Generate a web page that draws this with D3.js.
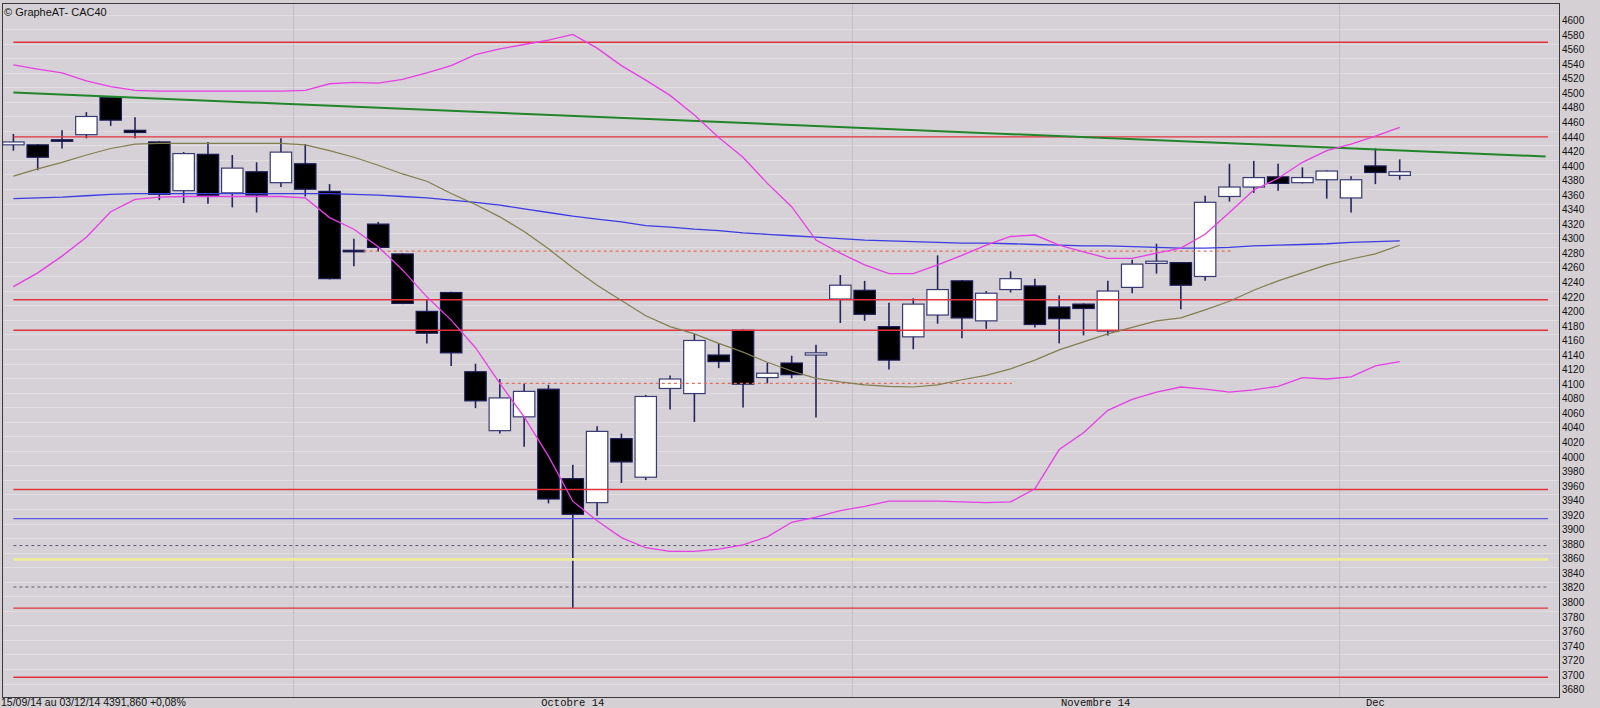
<!DOCTYPE html>
<html>
<head>
<meta charset="utf-8">
<script src="https://d3js.org/d3.v7.min.js"></script>
<style>
  html, body { margin: 0; padding: 0; background: #d4d0d4; overflow: hidden; }
  svg { display: block; font-family: "Liberation Sans", Arial, sans-serif; }
</style>
</head>
<body>
<svg id="chart"></svg>
<script>
// séances du 15/09/14 au 03/12/14
const dates = [
  "15/09/14","16/09/14","17/09/14","18/09/14","19/09/14","22/09/14","23/09/14","24/09/14","25/09/14","26/09/14",
  "29/09/14","30/09/14","01/10/14","02/10/14","03/10/14","06/10/14","07/10/14","08/10/14","09/10/14","10/10/14",
  "13/10/14","14/10/14","15/10/14","16/10/14","17/10/14","20/10/14","21/10/14","22/10/14","23/10/14","24/10/14",
  "27/10/14","28/10/14","29/10/14","30/10/14","31/10/14","03/11/14","04/11/14","05/11/14","06/11/14","07/11/14",
  "10/11/14","11/11/14","12/11/14","13/11/14","14/11/14","17/11/14","18/11/14","19/11/14","20/11/14","21/11/14",
  "24/11/14","25/11/14","26/11/14","27/11/14","28/11/14","01/12/14","02/12/14","03/12/14"
];
const monthNames = { "10": "Octobre 14", "11": "Novembre 14", "12": "Dec" };

const open  = [4429,4429,4436,4443,4494,4449,4433,4366,4416,4363,4392,4377,4403,4365,4284,4320,4279,4200,4226,4117,
               4036,4055,4093,3970,3937,4025,3972,4094,4087,4140,4174,4109,4129,4140,4217,4229,4179,4165,4195,4242,
               4187,4230,4235,4206,4210,4173,4233,4266,4267,4248,4358,4371,4385,4377,4381,4356,4400,4387];
const high  = [4444,4430,4449,4474,4496,4467,4434,4419,4433,4415,4405,4438,4430,4375,4300,4323,4280,4216,4227,4128,
               4107,4101,4099,3989,4042,4032,4085,4112,4169,4156,4175,4129,4139,4154,4250,4242,4212,4218,4277,4243,
               4228,4255,4245,4222,4211,4242,4271,4293,4268,4359,4403,4407,4403,4398,4394,4386,4424,4409];
const low   = [4421,4394,4424,4438,4455,4438,4353,4349,4348,4343,4336,4371,4358,4244,4262,4282,4210,4156,4125,4067,
               4032,4014,3936,3792,3919,3964,3968,4065,4048,4122,4068,4101,4108,4054,4184,4187,4120,4148,4183,4163,
               4176,4226,4178,4156,4167,4167,4225,4252,4203,4242,4351,4363,4366,4376,4355,4336,4375,4381];
const close = [4433,4412,4434,4468,4463,4446,4361,4417,4359,4397,4360,4419,4368,4245,4283,4288,4211,4170,4143,4077,
               4081,4090,3942,3921,4035,3993,4083,4107,4160,4131,4100,4115,4113,4143,4236,4196,4133,4210,4230,4191,
               4225,4245,4182,4190,4204,4228,4265,4269,4236,4350,4371,4384,4376,4384,4393,4381,4391,4392];

// bandes de Bollinger
const bbUpper  = [4539,4533,4528,4517,4509,4504,4503,4503,4503,4503,4503,4503,4504,4513,4515,4514,4519,4528,4538,4553,
                  4561,4567,4573,4581,4562,4538,4518,4497,4470,4439,4412,4376,4344,4298,4280,4264,4252,4252,4264,4277,
                  4291,4303,4305,4291,4282,4273,4273,4280,4287,4306,4336,4367,4383,4405,4421,4430,4441,4453];
const bbMiddle = [4386,4396,4405,4415,4424,4430,4431,4431,4431,4431,4431,4431,4429,4421,4412,4401,4389,4379,4362,4347,
                  4330,4310,4286,4260,4236,4215,4194,4179,4169,4156,4144,4130,4118,4108,4103,4099,4097,4096,4099,4106,
                  4112,4121,4133,4147,4158,4169,4178,4187,4191,4202,4214,4229,4242,4253,4264,4272,4279,4291];
const bbLower  = [4234,4253,4276,4302,4337,4354,4357,4358,4358,4358,4358,4358,4356,4329,4313,4289,4257,4220,4188,4150,
                  4101,4055,4001,3939,3912,3889,3875,3870,3870,3873,3879,3890,3910,3917,3926,3932,3939,3939,3939,3938,
                  3937,3938,3956,4010,4033,4064,4079,4089,4096,4093,4089,4092,4097,4109,4107,4110,4125,4131];
// moyenne mobile longue
const maLong   = [4355,4356,4357,4359,4361,4362,4362,4362,4362,4362,4362,4362,4362,4362,4361,4360,4358,4356,4353,4350,
                  4346,4341,4336,4331,4327,4323,4318,4316,4313,4311,4308,4306,4304,4302,4300,4298,4297,4296,4295,4294,
                  4294,4293,4292,4291,4290,4290,4289,4288,4287,4287,4288,4290,4291,4292,4293,4295,4296,4297];

// niveaux tracés
const redLevels = [4570, 4440, 4216, 4174, 3955, 3792, 3697];
const blueLevels = [3915];
const yellowLevels = [3859];
const grayDashLevels = [3878, 3821];
const levelEnd = 63.1;               // les niveaux s'arrêtent avant l'échelle
const pivotValues = [4283, 4101];     // pointillés saumon
const pivotFrom = [14.4, 20];
const pivotTo = [50.1, 41.05];
const trendIdx = [0, 63];             // oblique verte
const trendVal = [4501, 4413];
const yTicks = d3.range(3680, 4601, 20);

const width = 1600, height = 708;
const frame = { left: 2, top: 3, right: 1559, bottom: 697 };

const svg = d3.select("#chart").attr("width", width).attr("height", height);

const x = d3.scaleLinear().domain([0, dates.length - 1]).range([13.4, 1399.7]);
const y = d3.scaleLinear().domain([3700, 4600]).range([675, 20.5]);
const step = x(1) - x(0);
const bodyW = step * 0.88;

svg.append("rect").attr("width", width).attr("height", height).attr("fill", "#d4d0d4");
svg.append("rect")
  .attr("x", frame.left).attr("y", frame.top)
  .attr("width", frame.right - frame.left).attr("height", frame.bottom - frame.top)
  .attr("fill", "#d5d1d6");

svg.append("defs").append("clipPath").attr("id", "plot")
  .append("rect")
  .attr("x", frame.left).attr("y", frame.top)
  .attr("width", frame.right - frame.left).attr("height", frame.bottom - frame.top);

const g = svg.append("g").attr("clip-path", "url(#plot)");

// grille horizontale
g.append("g").selectAll("line").data(yTicks).enter().append("line")
  .attr("x1", frame.left).attr("x2", frame.right)
  .attr("y1", d => Math.round(y(d) - 6) + 0.5).attr("y2", d => Math.round(y(d) - 6) + 0.5)
  .attr("stroke", "#e1dee2").attr("stroke-width", 1);

// début de mois
const monthStarts = [];
dates.forEach((d, i) => {
  if (i > 0 && d.slice(3, 5) !== dates[i - 1].slice(3, 5)) monthStarts.push(i);
});
g.append("g").selectAll("line").data(monthStarts).enter().append("line")
  .attr("x1", d => Math.round(x(d - 0.5)) + 0.5).attr("x2", d => Math.round(x(d - 0.5)) + 0.5)
  .attr("y1", frame.top).attr("y2", frame.bottom)
  .attr("stroke", "#c3bfc4").attr("stroke-width", 1);

// bougies
const candles = dates.map((d, i) => ({ i, o: open[i], h: high[i], l: low[i], c: close[i] }));
const cg = g.append("g").attr("class", "candles");
cg.selectAll("line").data(candles).enter().append("line")
  .attr("x1", d => x(d.i)).attr("x2", d => x(d.i))
  .attr("y1", d => y(d.h)).attr("y2", d => y(d.l))
  .attr("stroke", "#24245e").attr("stroke-width", 1.6);
cg.selectAll("rect").data(candles).enter().append("rect")
  .attr("x", d => x(d.i) - bodyW / 2)
  .attr("width", bodyW)
  .attr("y", d => y(Math.max(d.o, d.c)))
  .attr("height", d => Math.max(1.5, Math.abs(y(d.o) - y(d.c))))
  .attr("fill", d => d.c >= d.o ? "#ffffff" : "#000000")
  .attr("stroke", d => d.c >= d.o ? "#3a3a72" : "#1c1c58")
  .attr("stroke-width", 1.2);

// niveaux horizontaux
function levels(data, color, widthPx, dash) {
  g.append("g").selectAll("line").data(data).enter().append("line")
    .attr("x1", x(0)).attr("x2", x(levelEnd))
    .attr("y1", d => y(d)).attr("y2", d => y(d))
    .attr("stroke", color).attr("stroke-width", widthPx)
    .attr("stroke-dasharray", dash || null);
}
levels(yellowLevels, "#ecec9c", 2.6);
levels(grayDashLevels, "#5c5c70", 1, "3,3");
levels(blueLevels, "#5a5ae6", 1.4);
levels(redLevels, "#e2323c", 1.4);

g.append("g").selectAll("line").data(pivotValues).enter().append("line")
  .attr("x1", (d, k) => x(pivotFrom[k])).attr("x2", (d, k) => x(pivotTo[k]))
  .attr("y1", d => y(d)).attr("y2", d => y(d))
  .attr("stroke", "#e0705c").attr("stroke-width", 1.2)
  .attr("stroke-dasharray", "3,3");

// oblique
g.append("line")
  .attr("x1", x(trendIdx[0])).attr("y1", y(trendVal[0]))
  .attr("x2", x(trendIdx[1])).attr("y2", y(trendVal[1]))
  .attr("stroke", "#22852a").attr("stroke-width", 2);

// moyennes
const line = d3.line().x((d, i) => x(i)).y(d => y(d));
g.append("path").datum(maLong).attr("d", line)
  .attr("fill", "none").attr("stroke", "#3c3ce2").attr("stroke-width", 1.3);
g.append("path").datum(bbMiddle).attr("d", line)
  .attr("fill", "none").attr("stroke", "#827e4e").attr("stroke-width", 1.2);
[bbUpper, bbLower].forEach(band => {
  g.append("path").datum(band).attr("d", line)
    .attr("fill", "none").attr("stroke", "#e83ee6").attr("stroke-width", 1.3);
});

// cadre
svg.append("rect")
  .attr("x", frame.left + 0.5).attr("y", frame.top + 0.5)
  .attr("width", frame.right - frame.left).attr("height", frame.bottom - frame.top)
  .attr("fill", "none").attr("stroke", "#3a3a3a").attr("stroke-width", 1);

// échelle de droite
const yAxis = d3.axisRight(y).tickValues(yTicks).tickSize(0).tickPadding(3).tickFormat(d3.format("d"));
svg.append("g")
  .attr("transform", `translate(${frame.right},0)`)
  .call(yAxis)
  .call(a => a.select(".domain").remove())
  .call(a => a.selectAll("text").attr("fill", "#111").style("font-size", "10px")
    .style("font-family", "'Liberation Sans', Arial, sans-serif"));

// mois
const monthBounds = monthStarts.map((s, k) => [s - 0.5, k + 1 < monthStarts.length ? monthStarts[k + 1] - 0.5 : dates.length - 0.5]);
svg.append("g").selectAll("text").data(monthStarts).enter().append("text")
  .attr("x", (d, k) => x((monthBounds[k][0] + monthBounds[k][1]) / 2))
  .attr("y", 705.5)
  .attr("text-anchor", "middle")
  .style("font-family", "'Liberation Mono', 'Courier New', monospace")
  .style("font-size", "10.5px")
  .attr("fill", "#111")
  .text(d => monthNames[dates[d].slice(3, 5)]);

svg.append("text").attr("x", 4).attr("y", 16)
  .style("font-size", "11px").attr("fill", "#111")
  .text("© GrapheAT- CAC40");

svg.append("text").attr("x", 1).attr("y", 705.5)
  .style("font-size", "10.5px").attr("fill", "#111")
  .text("15/09/14 au 03/12/14 4391,860 +0,08%");
</script>
</body>
</html>
